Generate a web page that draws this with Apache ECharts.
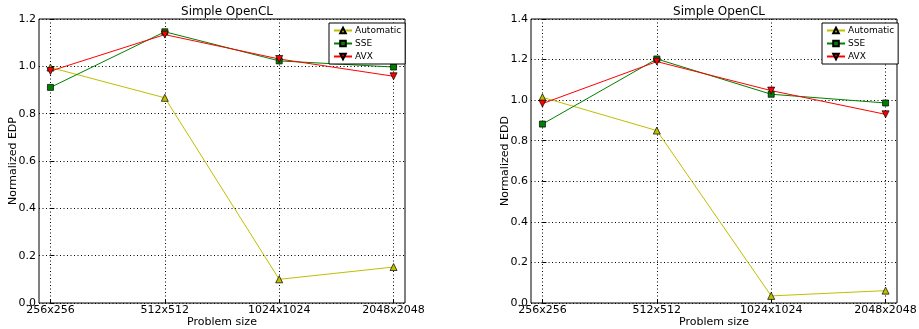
<!DOCTYPE html>
<html>
<head>
<meta charset="utf-8">
<script src="https://cdn.jsdelivr.net/npm/echarts@6/dist/echarts.min.js"></script>
<style>
  html, body { margin: 0; padding: 0; background: #fff; }
  #chart { width: 919px; height: 329px; }
</style>
</head>
<body>
<div id="chart"></div>
<script>
const categories = ['256x256', '512x512', '1024x1024', '2048x2048'];
const seriesNames = ['Automatic', 'SSE', 'AVX'];

// left panel: Normalized EDP
const edpAutomatic = [0.995, 0.867, 0.100, 0.152];
const edpSSE = [0.911, 1.146, 1.023, 0.997];
const edpAVX = [0.980, 1.134, 1.031, 0.958];

// right panel: Normalized EDD
const eddAutomatic = [1.014, 0.850, 0.035, 0.061];
const eddSSE = [0.882, 1.203, 1.029, 0.986];
const eddAVX = [0.983, 1.190, 1.047, 0.930];

const yTicksLeft = [0, 0.2, 0.4, 0.6, 0.8, 1.0, 1.2];
const yTicksRight = [0, 0.2, 0.4, 0.6, 0.8, 1.0, 1.2, 1.4];

const colors = { Automatic: '#bfbf00', SSE: '#008000', AVX: '#ff0000' };
const symbols = { Automatic: 'triangle', SSE: 'rect', AVX: 'path://M0,0 L10,0 L5,10 Z' };
const fontFamily = 'DejaVu Sans';
const catIdx = categories.map((c, i) => i);

function xAxisFor(gridIndex) {
    return {
        type: 'value',
        gridIndex: gridIndex,
        min: -0.1,
        max: 3.1,
        name: 'Problem size',
        nameLocation: 'middle',
        nameGap: 14,
        nameMoveOverlap: false,
        nameTextStyle: { color: '#000', fontSize: 11, fontFamily: fontFamily },
        axisLine: { show: false },
        axisTick: { show: true, inside: true, length: 4, customValues: catIdx, lineStyle: { color: '#000' } },
        axisLabel: {
            customValues: catIdx,
            formatter: v => categories[Math.round(v)] || '',
            color: '#000', fontSize: 11, fontFamily: fontFamily, margin: 2
        },
        splitLine: { show: true, lineStyle: { color: '#000', type: [1, 2.5], width: 1 } }
    };
}

function yAxisFor(gridIndex, max, ticks, name) {
    return {
        type: 'value',
        gridIndex: gridIndex,
        min: 0,
        max: max,
        interval: 0.2,
        name: name,
        nameLocation: 'middle',
        nameGap: 20,
        nameMoveOverlap: false,
        nameTextStyle: { color: '#000', fontSize: 11, fontFamily: fontFamily },
        axisLine: { show: false },
        axisTick: { show: true, inside: true, length: 4, lineStyle: { color: '#000' } },
        axisLabel: {
            color: '#000', fontSize: 11, fontFamily: fontFamily, margin: 3,
            formatter: v => ticks.includes(Math.round(v * 10) / 10) ? v.toFixed(1) : ''
        },
        splitLine: { show: true, lineStyle: { color: '#000', type: [1, 2.5], width: 1 } }
    };
}

function makeSeries(name, values, gridIndex) {
    return {
        name: name,
        type: 'line',
        xAxisIndex: gridIndex,
        yAxisIndex: gridIndex,
        data: values.map((v, i) => [i, v]),
        symbol: symbols[name],
        symbolSize: name === 'SSE' ? 6 : 7,
        showAllSymbol: true,
        lineStyle: { color: colors[name], width: 1 },
        itemStyle: { color: colors[name], borderColor: '#000', borderWidth: 0.7 },
        emphasis: { disabled: true },
        animation: false
    };
}

function legendFor(left) {
    return {
        data: seriesNames,
        orient: 'vertical',
        left: left,
        top: 23,
        width: 60,
        padding: [3, 4, 3, 4],
        itemGap: 4,
        itemWidth: 18,
        itemHeight: 7,
        borderColor: '#000',
        borderWidth: 1,
        backgroundColor: '#fff',
        textStyle: { color: '#000', fontSize: 9, fontFamily: fontFamily, padding: [0, 0, 0, -2] },
        selectedMode: false
    };
}

const chart = echarts.init(document.getElementById('chart'), null, { renderer: 'canvas' });
chart.setOption({
    animation: false,
    backgroundColor: '#fff',
    title: [
        { text: 'Simple OpenCL', left: 222, top: 1, textAlign: 'center',
          textStyle: { fontSize: 12, fontWeight: 'normal', color: '#000', fontFamily: fontFamily } },
        { text: 'Simple OpenCL', left: 714, top: 1, textAlign: 'center',
          textStyle: { fontSize: 12, fontWeight: 'normal', color: '#000', fontFamily: fontFamily } }
    ],
    legend: [legendFor(329), legendFor(822)],
    grid: [
        { left: 39, top: 19, width: 366, height: 284, outerBoundsMode: 'none', containLabel: false,
          show: true, borderColor: '#000', borderWidth: 1, backgroundColor: 'transparent' },
        { left: 531, top: 19, width: 366, height: 284, outerBoundsMode: 'none', containLabel: false,
          show: true, borderColor: '#000', borderWidth: 1, backgroundColor: 'transparent' }
    ],
    xAxis: [xAxisFor(0), xAxisFor(1)],
    yAxis: [
        yAxisFor(0, 1.2, yTicksLeft, 'Normalized EDP'),
        yAxisFor(1, 1.4, yTicksRight, 'Normalized EDD')
    ],
    series: [
        makeSeries('Automatic', edpAutomatic, 0),
        makeSeries('SSE', edpSSE, 0),
        makeSeries('AVX', edpAVX, 0),
        makeSeries('Automatic', eddAutomatic, 1),
        makeSeries('SSE', eddSSE, 1),
        makeSeries('AVX', eddAVX, 1)
    ]
});
</script>
</body>
</html>
